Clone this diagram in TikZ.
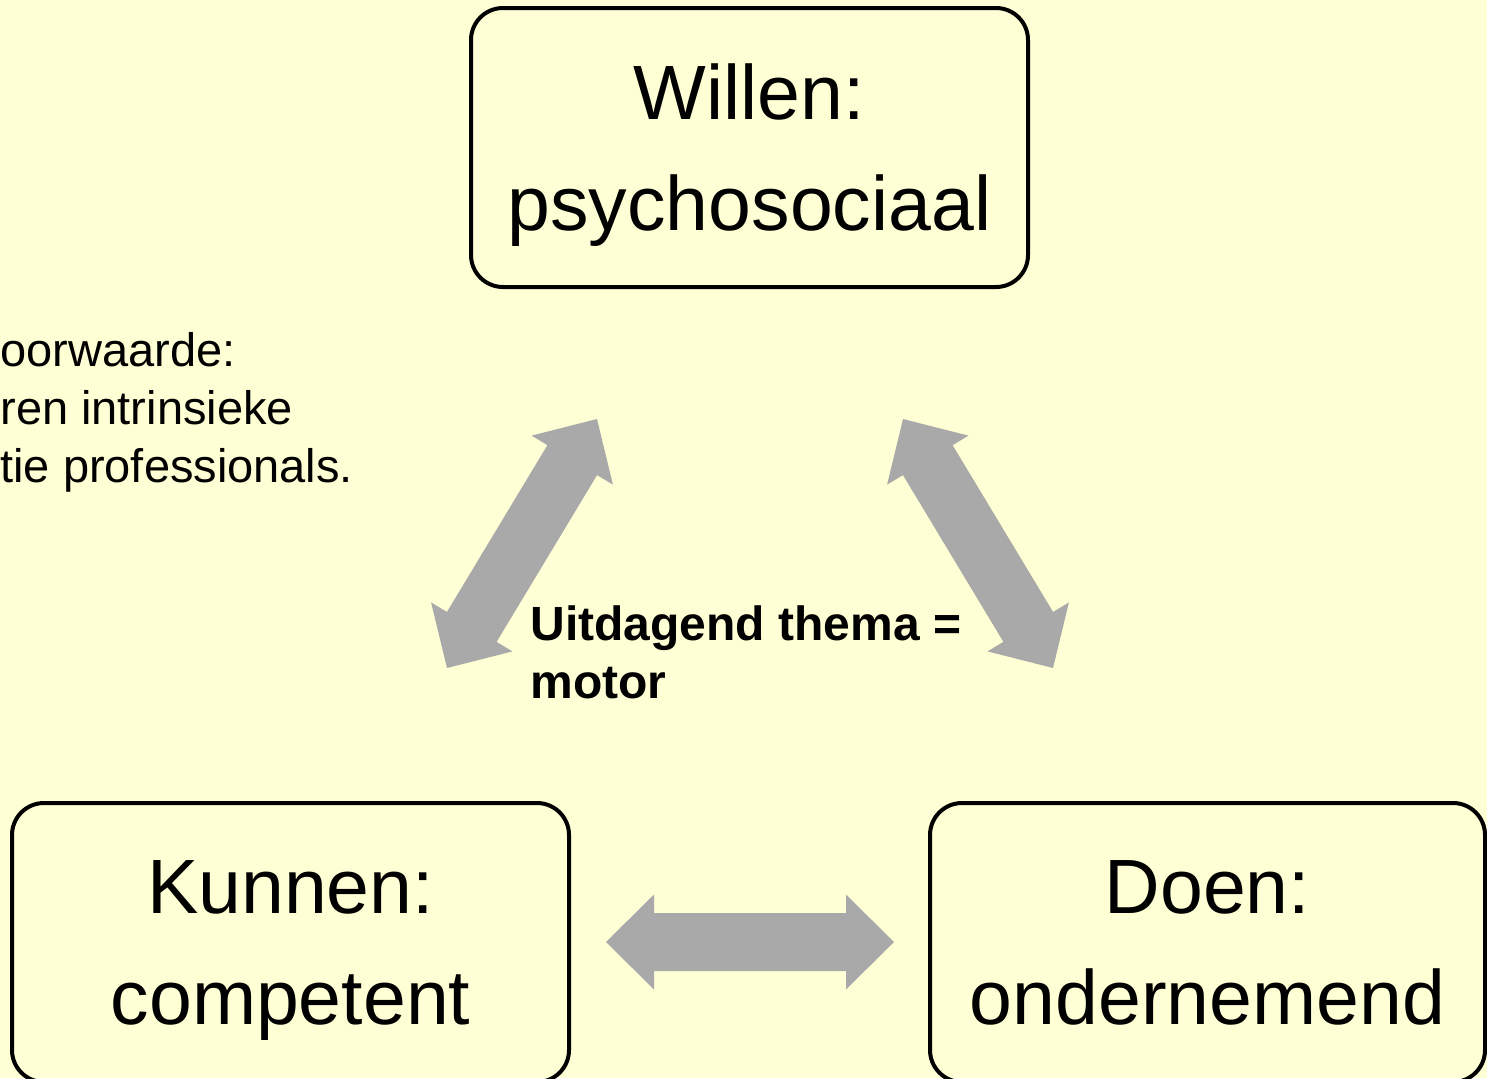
\documentclass[tikz,border=0pt]{standalone}
\usepackage{fontspec}
\setmainfont{Liberation Sans}
\usetikzlibrary{calc}
\definecolor{paper}{RGB}{255,255,214}
\definecolor{arrowgray}{RGB}{169,169,169}
\def\dblarrow(#1)(#2){%
	\path let \p1=(#1), \p2=(#2) in \pgfextra{%
		\pgfmathsetmacro\arrang{atan2(\y2-\y1,\x2-\x1)}\global\let\arrang\arrang
		\pgfmathsetmacro\arrlen{veclen(\x2-\x1,\y2-\y1)}\global\let\arrlen\arrlen};
	\fill[arrowgray, shift={(#1)}, rotate=\arrang] (0pt,0pt) -- (24pt,23.75pt) -- (24pt,14.5pt) -- ({\arrlen pt-24pt},14.5pt) -- ({\arrlen pt-24pt},23.75pt) -- ({\arrlen pt},0pt) -- ({\arrlen pt-24pt},-23.75pt) -- ({\arrlen pt-24pt},-14.5pt) -- (24pt,-14.5pt) -- (24pt,-23.75pt) -- cycle;
}

\begin{document}
\begin{tikzpicture}[x=0.5pt, y=-0.5pt,
		pillar/.style={draw=black, line width=2pt, rounded corners=16pt, minimum width=278.5pt, minimum height=139.5pt, align=center, inner sep=0pt, text depth=0pt, font=\fontsize{38.5pt}{55.5pt}\selectfont},
		note/.style={anchor=north west, align=left, inner sep=0pt, font=\fontsize{23.5pt}{29pt}\selectfont}]
			%%%%% START %%%%%
			
			\fill[paper] (0, 0) rectangle (1487, 1078);
			\useasboundingbox (0, 0) rectangle (1487, 1078);
			
			\node[pillar] (willen) at (749.5, 147.5) {Willen:\\psychosociaal};
			\node[pillar] (kunnen) at (290.5, 942.5) {Kunnen:\\competent};
			\node[pillar, minimum width=277.5pt] (doen) at (1207.5, 942.5) {Doen:\\ondernemend};
			
			\node[note] (voorwaarde) at (0, 332) {oorwaarde:\\ren intrinsieke\\tie professionals.};
			\node[note, font=\fontsize{24pt}{29pt}\selectfont\bfseries] (motor) at (530, 605) {Uitdagend thema =\\motor};
			
			\coordinate (kw) at (447, 668);
			\coordinate (wk) at (597, 419);
			\coordinate (wd) at (903, 419);
			\coordinate (dw) at (1053, 668);
			\coordinate (kd) at (606, 942);
			\coordinate (dk) at (894, 942);
			
			\dblarrow(kw)(wk)
			\dblarrow(wd)(dw)
			\dblarrow(kd)(dk)
			
			%%%%% END %%%%%
\end{tikzpicture}
\end{document}
